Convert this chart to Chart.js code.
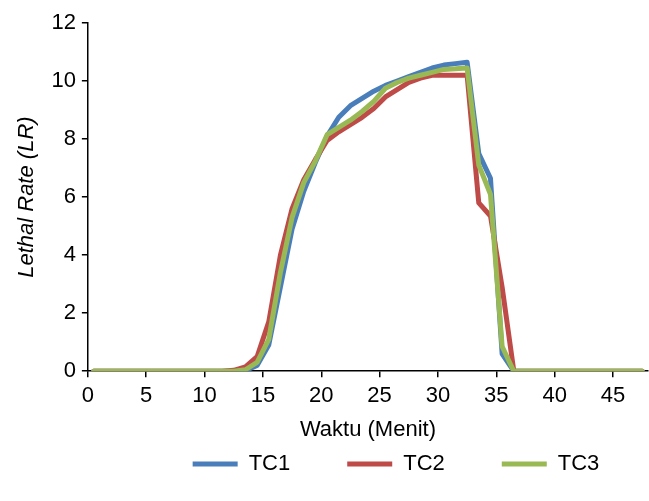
<!DOCTYPE html>
<html>
<head>
<meta charset="utf-8">
<script src="https://cdn.jsdelivr.net/npm/chart.js@4/dist/chart.umd.min.js"></script>
<style>
  html, body { margin: 0; padding: 0; background: #fff; }
  #wrap { width: 649px; height: 501px; }
</style>
</head>
<body>
<div id="wrap"><canvas id="lrChart"></canvas></div>
<script>
// waktu pengamatan (menit), titik ada di tengah tiap interval
const menit = [0.5, 1.5, 2.5, 3.5, 4.5, 5.5, 6.5, 7.5, 8.5, 9.5, 10.5, 11.5,
  12.5, 13.5, 14.5, 15.5, 16.5, 17.5, 18.5, 19.5, 20.5, 21.5, 22.5, 23.5,
  24.5, 25.5, 26.5, 27.5, 28.5, 29.5, 30.5, 31.5, 32.5, 33.5, 34.5, 35.5,
  36.5, 37.5, 38.5, 39.5, 40.5, 41.5, 42.5, 43.5, 44.5, 45.5, 46.5, 47.5];

const tc1 = [0, 0, 0, 0, 0, 0, 0, 0, 0, 0, 0, 0,
  0, 0.02, 0.2, 0.9, 2.9, 4.9, 6.2, 7.2, 8.1, 8.75, 9.15, 9.4,
  9.65, 9.85, 10.0, 10.15, 10.3, 10.45, 10.55, 10.6, 10.65, 7.5, 6.65, 0.6,
  0, 0, 0, 0, 0, 0, 0, 0, 0, 0, 0, 0];

const tc2 = [0, 0, 0, 0, 0, 0, 0, 0, 0, 0, 0, 0,
  0.03, 0.15, 0.5, 1.7, 4.0, 5.6, 6.6, 7.3, 7.95, 8.25, 8.5, 8.75,
  9.05, 9.45, 9.7, 9.95, 10.1, 10.2, 10.2, 10.2, 10.2, 5.8, 5.35, 2.9,
  0, 0, 0, 0, 0, 0, 0, 0, 0, 0, 0, 0];

const tc3 = [0, 0, 0, 0, 0, 0, 0, 0, 0, 0, 0, 0,
  0, 0.05, 0.3, 1.1, 3.4, 5.3, 6.5, 7.25, 8.15, 8.4, 8.65, 8.95,
  9.3, 9.75, 9.95, 10.1, 10.2, 10.3, 10.4, 10.42, 10.45, 7.1, 6.1, 0.85,
  0, 0, 0, 0, 0, 0, 0, 0, 0, 0, 0, 0];

const seriesNames = ['TC1', 'TC2', 'TC3'];
const seriesColors = ['#4a7ebb', '#be4b48', '#98b954'];
const seriesData = [tc1, tc2, tc3];

const yTicks = [0, 2, 4, 6, 8, 10, 12];
const xTicks = [0, 5, 10, 15, 20, 25, 30, 35, 40, 45];

Chart.defaults.font.family = '"Liberation Sans", Arial, sans-serif';
Chart.defaults.font.size = 22;
Chart.defaults.color = '#000';

// legenda Excel punya jarak antar item yang lebar, geser manual
const legendShift = {
  id: 'legendShift',
  afterLayout(chart) {
    const lg = chart.legend;
    lg.top = 396;
    lg.left += 66;
    lg.right += 66;
  }
};

const ctx = document.getElementById('lrChart').getContext('2d');
new Chart(ctx, {
  type: 'line',
  data: {
    datasets: seriesData.map((vals, i) => ({
      label: seriesNames[i],
      data: menit.map((t, j) => ({ x: t, y: vals[j] })),
      borderColor: seriesColors[i],
      backgroundColor: seriesColors[i],
      borderWidth: 5,
      borderCapStyle: 'round',
      borderJoinStyle: 'round',
      pointRadius: 0,
      tension: 0,
      order: 3 - i
    }))
  },
  options: {
    responsive: true,
    maintainAspectRatio: false,
    animation: false,
    layout: { padding: { left: 12, right: 1, top: 23, bottom: 14 } },
    scales: {
      x: {
        type: 'linear',
        min: 0,
        max: 48,
        afterBuildTicks: (axis) => { axis.ticks = xTicks.map(v => ({ value: v })); },
        ticks: { padding: 6, maxRotation: 0 },
        grid: { drawOnChartArea: false, drawTicks: true, tickLength: 6, color: '#000', lineWidth: 1.5 },
        border: { color: '#000', width: 1.5 },
        title: { display: true, text: 'Waktu (Menit)', padding: { top: 1, bottom: 4 } }
      },
      y: {
        min: 0,
        max: 12,
        afterBuildTicks: (axis) => { axis.ticks = yTicks.map(v => ({ value: v })); },
        ticks: { padding: 6 },
        grid: { drawOnChartArea: false, drawTicks: true, tickLength: 6, color: '#000', lineWidth: 1.5 },
        border: { color: '#000', width: 1.5 },
        title: {
          display: true,
          text: 'Lethal Rate (LR)',
          font: { style: 'italic' },
          padding: { top: 2, bottom: 5 }
        }
      }
    },
    plugins: {
      legend: {
        position: 'bottom',
        maxHeight: 40,
        labels: {
          usePointStyle: true,
          pointStyle: 'line',
          pointStyleWidth: 45,
          padding: 57,
          sort: (a, b) => a.datasetIndex - b.datasetIndex
        }
      },
      tooltip: { enabled: false }
    }
  },
  plugins: [legendShift]
});
</script>
</body>
</html>
